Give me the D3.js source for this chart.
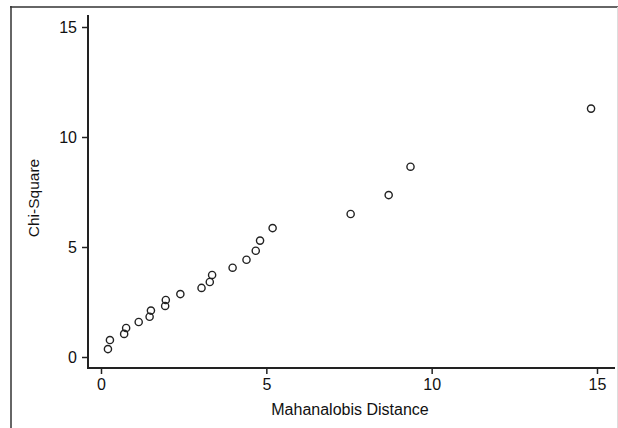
<!DOCTYPE html>
<html>
<head>
<meta charset="utf-8">
<script src="https://cdn.jsdelivr.net/npm/d3@7"></script>
<style>
  body { margin: 0; background: #fff; }
  text { font-family: "Liberation Sans", Arial, sans-serif; }
</style>
</head>
<body>
<script>
// Mahalanobis distance vs chi-square quantiles
const mahal = [0.21, 0.27, 0.70, 0.76, 1.14, 1.47, 1.51, 1.94, 1.96, 2.40, 3.04, 3.29, 3.36, 3.98, 4.40, 4.68, 4.81, 5.19, 7.55, 8.70, 9.36, 14.82];
const chisq = [0.36, 0.77, 1.05, 1.32, 1.59, 1.83, 2.11, 2.32, 2.59, 2.86, 3.14, 3.41, 3.73, 4.06, 4.42, 4.83, 5.29, 5.86, 6.50, 7.36, 8.65, 11.29];
const xTicks = [0, 5, 10, 15];
const yTicks = [0, 5, 10, 15];

const W = 618, H = 428;

const svg = d3.select("body")
  .append("svg")
  .attr("width", W)
  .attr("height", H);

// outer frame (top + left, faint right)
svg.append("line").attr("x1", 10).attr("y1", 7).attr("x2", 618).attr("y2", 7)
  .attr("stroke", "#666").attr("stroke-width", 2);
svg.append("line").attr("x1", 11).attr("y1", 6).attr("x2", 11).attr("y2", H)
  .attr("stroke", "#333").attr("stroke-width", 1.5);
svg.append("line").attr("x1", 617.5).attr("y1", 7).attr("x2", 617.5).attr("y2", H)
  .attr("stroke", "#ddd").attr("stroke-width", 1);

const x = d3.scaleLinear().domain([0, 15]).range([101, 597]);
const y = d3.scaleLinear().domain([0, 15]).range([357, 27]);

const axisLeftX = 88, axisBottomY = 368;

// y axis
const gy = svg.append("g")
  .attr("transform", `translate(${axisLeftX},0)`)
  .call(d3.axisLeft(y).tickValues(yTicks).tickSize(6).tickPadding(5).tickSizeOuter(0));
gy.select(".domain").remove();
svg.append("line").attr("x1", axisLeftX).attr("x2", axisLeftX)
  .attr("y1", 15).attr("y2", axisBottomY + 1)
  .attr("stroke", "#222").attr("stroke-width", 2);

// x axis
const gx = svg.append("g")
  .attr("transform", `translate(0,${axisBottomY})`)
  .call(d3.axisBottom(x).tickValues(xTicks).tickSize(6).tickPadding(5).tickSizeOuter(0));
gx.select(".domain").remove();
svg.append("line").attr("x1", axisLeftX).attr("x2", 615)
  .attr("y1", axisBottomY).attr("y2", axisBottomY)
  .attr("stroke", "#222").attr("stroke-width", 2);

gx.attr("font-size", null).attr("font-family", null);
gy.attr("font-size", null).attr("font-family", null);
svg.selectAll(".tick line").attr("stroke", "#222").attr("stroke-width", 1.5);
svg.selectAll(".tick text")
  .attr("fill", "#111")
  .style("font-size", "16px");

// axis titles
svg.append("text")
  .attr("x", 350).attr("y", 415)
  .attr("text-anchor", "middle")
  .attr("fill", "#111")
  .style("font-size", "16px")
  .text("Mahanalobis Distance");

svg.append("text")
  .attr("transform", "translate(39,198) rotate(-90)")
  .attr("text-anchor", "middle")
  .attr("fill", "#111")
  .style("font-size", "15.5px")
  .text("Chi-Square");

// points
svg.selectAll("circle.pt")
  .data(mahal)
  .enter()
  .append("circle")
  .attr("class", "pt")
  .attr("cx", d => x(d))
  .attr("cy", (d, i) => y(chisq[i]))
  .attr("r", 3.6)
  .attr("fill", "none")
  .attr("stroke", "#222")
  .attr("stroke-width", 1.4);
</script>
</body>
</html>
